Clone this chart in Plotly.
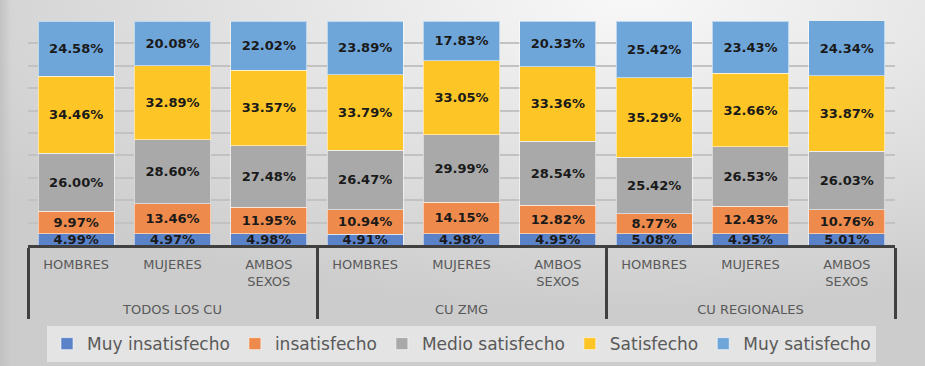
import base64
import plotly.graph_objects as go

groups = ["TODOS LOS CU"] * 3 + ["CU ZMG"] * 3 + ["CU REGIONALES"] * 3
pad_line = "<br><span style='font-size:12px'> </span>"
subgroups = ["HOMBRES", "MUJERES", "AMBOS<br>SEXOS" + pad_line] * 3

muy_insatisfecho = [4.99, 4.97, 4.98, 4.91, 4.98, 4.95, 5.08, 4.95, 5.01]
insatisfecho = [9.97, 13.46, 11.95, 10.94, 14.15, 12.82, 8.77, 12.43, 10.76]
medio_satisfecho = [26.00, 28.60, 27.48, 26.47, 29.99, 28.54, 25.42, 26.53, 26.03]
satisfecho = [34.46, 32.89, 33.57, 33.79, 33.05, 33.36, 35.29, 32.66, 33.87]
muy_satisfecho = [24.58, 20.08, 22.02, 23.89, 17.83, 20.33, 25.42, 23.43, 24.34]

series = [
    ("Muy insatisfecho", muy_insatisfecho, "#5a82c8"),
    ("insatisfecho", insatisfecho, "#ee8b4c"),
    ("Medio satisfecho", medio_satisfecho, "#a9a9a9"),
    ("Satisfecho", satisfecho, "#fec526"),
    ("Muy satisfecho", muy_satisfecho, "#6fa6da"),
]

W, H = 925, 366
L, R, T, B = 28, 30, 21, 121
pw, ph = W - L - R, H - T - B

fig = go.Figure()
for name, vals, col in series:
    fig.add_trace(go.Bar(
        name=name,
        x=[groups, subgroups],
        y=vals,
        marker=dict(color=col, line=dict(color="rgba(255,255,255,0.55)", width=1)),
        texttemplate="%{y:.2f}%",
        textposition="inside",
        insidetextanchor="middle",
        textangle=0,
        textfont=dict(family="DejaVu Sans", size=13, color="#1a1a1a", weight="bold"),
        hoverinfo="skip",
    ))

svg = (
    f'<svg xmlns="http://www.w3.org/2000/svg" width="{W}" height="{H}" '
    f'viewBox="0 0 {W} {H}" preserveAspectRatio="none">'
    '<defs><radialGradient id="g" cx="0.68" cy="0.0" r="0.85">'
    '<stop offset="0" stop-color="#f8f8f8"/>'
    '<stop offset="0.55" stop-color="#e0e0e0"/>'
    '<stop offset="1" stop-color="#cccccc"/>'
    '</radialGradient>'
    '<linearGradient id="e" x1="0" x2="1" y1="0" y2="0">'
    '<stop offset="0" stop-color="#c0c0c0" stop-opacity="0.9"/>'
    '<stop offset="0.012" stop-color="#c0c0c0" stop-opacity="0"/>'
    '</linearGradient></defs>'
    f'<rect width="{W}" height="{H}" fill="url(#g)"/>'
    f'<rect width="{W}" height="{H}" fill="url(#e)"/>'
    '</svg>'
)
src = "data:image/svg+xml;base64," + base64.b64encode(svg.encode()).decode()

fig.update_layout(
    width=W, height=H,
    margin=dict(l=L, r=R, t=T, b=B, autoexpand=False),
    barmode="stack",
    bargap=0.21,
    paper_bgcolor="#dcdcdc",
    plot_bgcolor="rgba(0,0,0,0)",
    font=dict(family="DejaVu Sans", color="#595959"),
    uniformtext=dict(minsize=13, mode="show"),
    showlegend=True,
    legend=dict(
        orientation="h", x=0.5, xanchor="center", y=-0.362, yanchor="top",
        bgcolor="rgba(236,236,236,0.75)", font=dict(family="DejaVu Sans", size=17, color="#595959"),
        traceorder="normal",
    ),
    images=[dict(
        source=src, xref="paper", yref="paper",
        x=-L / pw, y=1 + T / ph, sizex=W / pw, sizey=H / ph,
        xanchor="left", yanchor="top", sizing="stretch", layer="below",
    )],
    xaxis=dict(
        type="multicategory",
        showline=True, linecolor="#404040", linewidth=3,
        showdividers=True, dividercolor="#404040", dividerwidth=3,
        ticklabelstandoff=5,
        tickfont=dict(family="DejaVu Sans", size=13, color="#595959"),
        showgrid=False,
    ),
    yaxis=dict(
        range=[0, 100], dtick=10, showticklabels=False,
        showgrid=True, gridcolor="#c2c2c2", gridwidth=2, zeroline=False,
    ),
)

fig.write_html(
    "out.html",
    config={"displayModeBar": False},
    post_script="document.body.style.margin='0';document.body.style.overflow='hidden';",
)
